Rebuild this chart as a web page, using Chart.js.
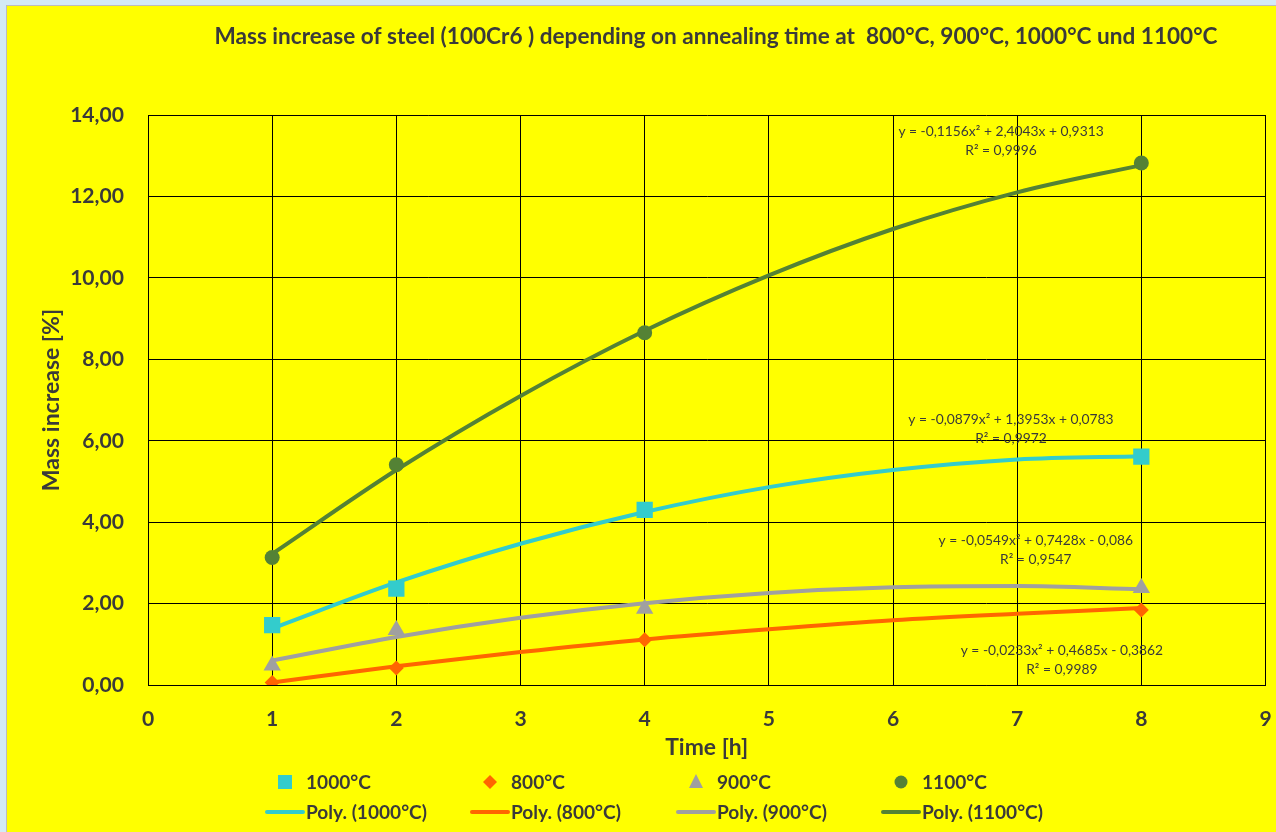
<!DOCTYPE html>
<html><head><meta charset="utf-8">
<script src="https://cdn.jsdelivr.net/npm/chart.js@4.4.0/dist/chart.umd.min.js"></script>
<style>
html,body{margin:0;padding:0;background:#d3eaf6;width:1276px;height:832px;overflow:hidden}
#wrap{position:absolute;left:6px;top:5px;width:1270px;height:827px;border-left:1px solid #bcbcbc;border-top:1px solid #bcbcbc;background:#ffff00}
canvas{display:block}
</style></head><body><div id="wrap"><canvas id="c" width="1270" height="827"></canvas></div>
<script>
const chartTitle = 'Mass increase of steel (100Cr6 ) depending on annealing time at  800°C, 900°C, 1000°C und 1100°C';
const xTitle = 'Time [h]';
const yTitle = 'Mass increase [%]';
const hours = [1, 2, 4, 8];
const mass1000 = [1.47, 2.37, 4.30, 5.61];
const mass800 = [0.06, 0.42, 1.11, 1.84];
const mass900 = [0.48, 1.35, 1.87, 2.38];
const mass1100 = [3.13, 5.41, 8.65, 12.82];
const fitHours = [1, 2, 3, 4, 5, 6, 7, 8];
const fit1000 = [1.39, 2.52, 3.47, 4.25, 4.86, 5.28, 5.54, 5.62];
const fit800 = [0.06, 0.46, 0.81, 1.12, 1.37, 1.59, 1.75, 1.89];
const fit900 = [0.60, 1.18, 1.65, 2.01, 2.26, 2.40, 2.43, 2.35];
const fit1100 = [3.22, 5.28, 7.10, 8.70, 10.06, 11.20, 12.10, 12.77];
const seriesNames = ['1000°C', '800°C', '900°C', '1100°C'];
const colors = ['#33CCCC', '#FF6600', '#A0A0A0', '#548235'];
const eqLines = [
  ['y = -0,0879x² + 1,3953x + 0,0783', 'R² = 0,9972'],
  ['y = -0,0233x² + 0,4685x - 0,3862', 'R² = 0,9989'],
  ['y = -0,0549x² + 0,7428x - 0,086', 'R² = 0,9547'],
  ['y = -0,1156x² + 2,4043x + 0,9313', 'R² = 0,9996']
];
const eqAnchorX = [6.95, 7.36, 7.15, 6.87];
const eqAnchorY = [6.51, 0.84, 3.54, 13.60];

const FONT = 'Lato, "Open Sans", sans-serif';
const TXT = '#3a3a3a';
const markerStyles = ['rect', 'rectRot', 'triangle', 'circle'];
const markerRadius = [11.5, 7.5, 10, 7.5];

// font size that gives a text a wanted width
const mctx = document.createElement('canvas').getContext('2d');
function fitSize(text, weight, width) {
  mctx.font = weight + ' 100px ' + FONT;
  return Math.round(100 * width / mctx.measureText(text).width * 10) / 10;
}
const titleSize = fitSize(chartTitle, 'bold', 1005);
const yTitleSize = Math.min(fitSize(yTitle, 'bold', 195), 23);
const xTitleSize = Math.min(fitSize(xTitle, 'bold', 83), 23);
const tickSize = fitSize('14,00', 'bold', 54);
const legendSize = fitSize('Poly. (1000°C)', 'bold', 121);
const eqSize = fitSize(eqLines[3][0], 'normal', 205);

const pts = (xs, ys) => xs.map((x, i) => ({x: x, y: ys[i]}));
const markerData = [mass1000, mass800, mass900, mass1100];
const fitData = [fit1000, fit800, fit900, fit1100];

const datasets = [];
for (let i = 0; i < 4; i++) {
  datasets.push({
    label: 'Poly. (' + seriesNames[i] + ')',
    data: pts(fitHours, fitData[i]),
    borderColor: colors[i], backgroundColor: colors[i],
    borderWidth: 4, pointRadius: 0, cubicInterpolationMode: 'monotone',
    fill: false, order: 2
  });
}
for (let i = 0; i < 4; i++) {
  datasets.push({
    label: seriesNames[i],
    data: pts(hours, markerData[i]),
    showLine: false,
    borderColor: colors[i], backgroundColor: colors[i],
    pointStyle: markerStyles[i], pointRadius: markerRadius[i], pointBorderWidth: 0,
    order: 1
  });
}

const extras = {
  id: 'extras',
  afterDraw(chart) {
    const ctx = chart.ctx;
    const xs = chart.scales.x, ys = chart.scales.y;
    ctx.save();
    ctx.fillStyle = TXT;
    ctx.font = 'bold ' + titleSize + 'px ' + FONT;
    ctx.textAlign = 'center'; ctx.textBaseline = 'middle';
    ctx.fillText(chartTitle, 709, 31);
    ctx.font = eqSize + 'px ' + FONT;
    for (let i = 0; i < 4; i++) {
      const px = xs.getPixelForValue(eqAnchorX[i]);
      const py = ys.getPixelForValue(eqAnchorY[i]);
      ctx.fillText(eqLines[i][0], px, py);
      ctx.fillText(eqLines[i][1], px, py + 19);
    }
    const colText = [299, 504, 710, 915];
    const row1 = 776, row2 = 806;
    ctx.font = 'bold ' + legendSize + 'px ' + FONT;
    ctx.textAlign = 'left';
    for (let i = 0; i < 4; i++) {
      const mx = colText[i] - 21;
      ctx.fillStyle = colors[i];
      ctx.beginPath();
      if (i === 0) { ctx.rect(mx - 7, row1 - 7, 14, 14); }
      else if (i === 1) { ctx.moveTo(mx, row1 - 7); ctx.lineTo(mx + 7, row1); ctx.lineTo(mx, row1 + 7); ctx.lineTo(mx - 7, row1); ctx.closePath(); }
      else if (i === 2) { ctx.moveTo(mx, row1 - 8); ctx.lineTo(mx + 7, row1 + 6); ctx.lineTo(mx - 7, row1 + 6); ctx.closePath(); }
      else { ctx.arc(mx, row1, 6.5, 0, Math.PI * 2); }
      ctx.fill();
      ctx.fillStyle = TXT;
      ctx.fillText(seriesNames[i], colText[i], row1 + 1);
      ctx.strokeStyle = colors[i]; ctx.lineWidth = 4; ctx.lineCap = 'round';
      ctx.beginPath(); ctx.moveTo(colText[i] - 39, row2); ctx.lineTo(colText[i] - 3, row2); ctx.stroke();
      ctx.fillText('Poly. (' + seriesNames[i] + ')', colText[i], row2 + 1);
    }
    ctx.restore();
  }
};

const zeroPad = () => ({left: 0, right: 0, top: 0, bottom: 0});

new Chart(document.getElementById('c'), {
  type: 'line',
  data: { datasets: datasets },
  plugins: [extras],
  options: {
    responsive: false, animation: false, devicePixelRatio: 1,
    layout: { padding: { left: 0, right: 7, top: 109, bottom: 68 } },
    plugins: { legend: { display: false }, title: { display: false }, tooltip: { enabled: false } },
    scales: {
      x: {
        type: 'linear', min: 0, max: 9,
        ticks: { stepSize: 1, color: TXT, font: { family: FONT, size: tickSize, weight: 'bold' }, padding: 0, maxRotation: 0 },
        grid: { color: '#000', lineWidth: 1, drawTicks: true, tickLength: 22, tickColor: 'rgba(0,0,0,0)' },
        border: { color: '#000', width: 1 },
        title: { display: true, text: xTitle, color: TXT, font: { family: FONT, size: xTitleSize, weight: 'bold' }, padding: { top: 0, bottom: 4 } },
        afterFit(s) {
          s.height = 80; s.paddingLeft = 0; s.paddingRight = 0;
          if (s._margins) { s._margins.left = 0; s._margins.right = 0; }
          s.getPadding = zeroPad;
        }
      },
      y: {
        min: 0, max: 14,
        ticks: { stepSize: 2, color: TXT, font: { family: FONT, size: tickSize, weight: 'bold' }, padding: 0,
          callback: v => v.toFixed(2).replace('.', ',') },
        grid: { color: '#000', lineWidth: 1, drawTicks: true, tickLength: 24, tickColor: 'rgba(0,0,0,0)' },
        border: { color: '#000', width: 1 },
        title: { display: true, text: yTitle, color: TXT, font: { family: FONT, size: yTitleSize, weight: 'bold' }, padding: { top: 31, bottom: 0 } },
        afterFit(s) { s.width = 141; s.getPadding = zeroPad; }
      }
    }
  }
});
</script>
</body></html>
